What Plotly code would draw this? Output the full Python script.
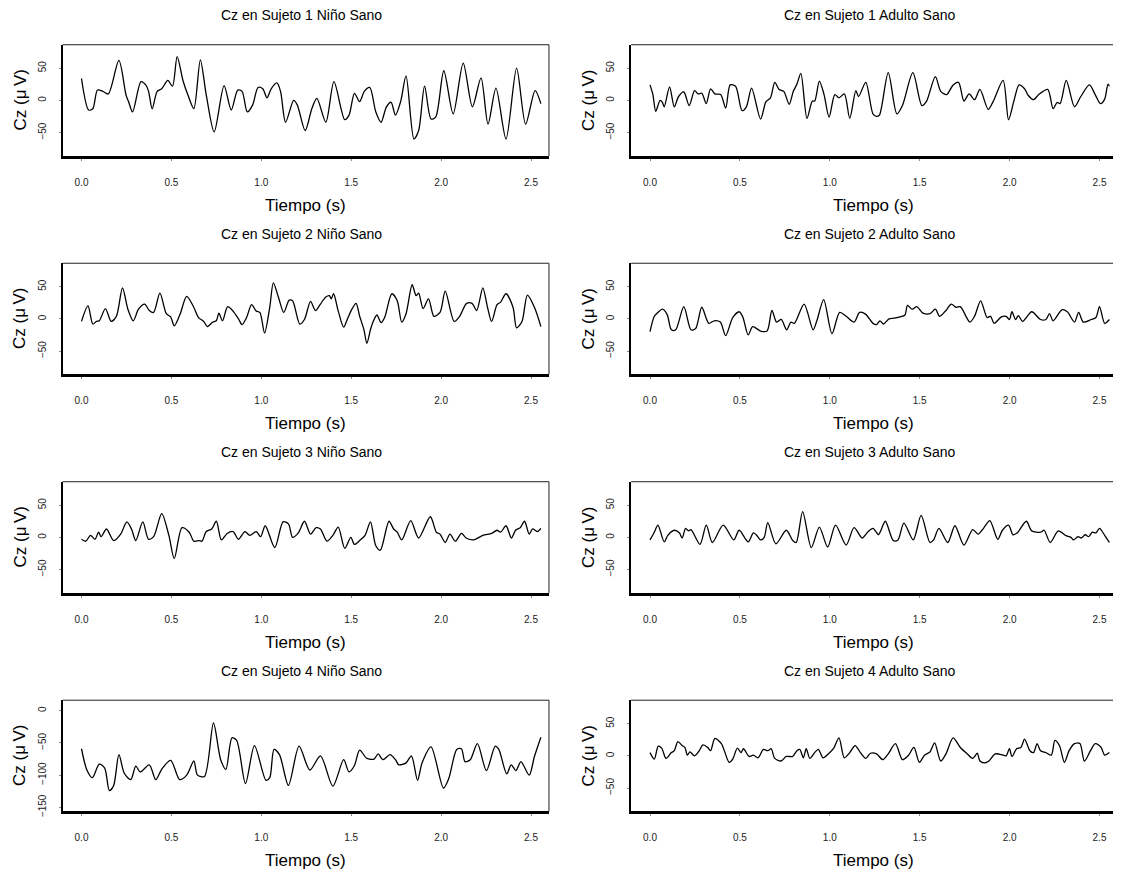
import plotly.graph_objects as go

# ---------------- data (time in s, Cz in microvolts) ----------------
nino1_t = [0.000,0.040,0.063,0.089,0.119,0.149,0.208,0.248,0.262,0.284,0.331,0.357,0.373,0.393,0.421,0.446,0.480,0.506,0.532,0.565,0.595,0.625,0.661,0.694,0.738,0.793,0.833,0.869,0.893,0.922,0.952,0.982,1.008,1.032,1.055,1.087,1.107,1.135,1.180,1.200,1.244,1.281,1.309,1.359,1.404,1.464,1.488,1.518,1.547,1.573,1.603,1.637,1.666,1.696,1.722,1.746,1.775,1.805,1.849,1.875,1.908,1.944,1.970,2.015,2.067,2.123,2.174,2.222,2.261,2.305,2.361,2.420,2.470,2.523,2.555]
nino1_v = [34,-15,-13,16,14,10,62,8,-2,-18,29,24,14,-13,14,18,31,22,68,30,6,-13,63,8,-49,23,-15,16,14,-18,-7,20,18,4,18,27,14,-34,0,-7,-47,-13,3,-34,29,-30,-23,11,-2,14,20,-18,-34,-10,-3,-23,-2,38,-60,-47,22,-29,-26,46,-21,58,-10,35,-37,19,-60,50,-37,15,-5]

adulto1_t = [0.000,0.016,0.032,0.056,0.069,0.079,0.109,0.135,0.159,0.188,0.218,0.248,0.268,0.288,0.313,0.337,0.361,0.393,0.421,0.446,0.476,0.512,0.536,0.565,0.615,0.645,0.670,0.694,0.718,0.744,0.774,0.797,0.817,0.839,0.873,0.903,0.916,0.942,0.968,0.996,1.028,1.051,1.081,1.111,1.145,1.160,1.200,1.240,1.260,1.276,1.325,1.373,1.404,1.462,1.512,1.537,1.587,1.617,1.650,1.686,1.716,1.746,1.775,1.805,1.835,1.881,1.908,1.964,1.994,2.023,2.053,2.083,2.103,2.133,2.162,2.212,2.242,2.265,2.281,2.315,2.361,2.396,2.444,2.476,2.505,2.529,2.547,2.555]
adulto1_v = [24,9,-17,0,-3,-10,21,-10,6,13,-8,15,10,11,-5,18,10,9,-12,24,22,-16,-10,19,-29,-2,4,28,17,14,-6,14,25,42,-28,-1,-1,30,9,-26,9,4,10,-28,15,6,28,-21,-25,-23,43,-21,-8,43,-8,-2,37,14,9,24,28,-1,10,1,17,-14,-2,31,-30,-2,24,18,8,1,9,17,-13,-3,-5,31,-10,6,24,9,-5,2,25,22]

nino2_t = [0.000,0.036,0.063,0.083,0.099,0.133,0.165,0.194,0.228,0.258,0.288,0.317,0.351,0.377,0.401,0.436,0.472,0.496,0.516,0.548,0.585,0.621,0.651,0.680,0.700,0.730,0.750,0.764,0.784,0.813,0.843,0.873,0.893,0.918,0.946,0.972,0.992,1.018,1.047,1.067,1.095,1.125,1.155,1.174,1.214,1.240,1.274,1.301,1.329,1.359,1.379,1.389,1.402,1.428,1.458,1.478,1.504,1.527,1.547,1.571,1.587,1.607,1.621,1.643,1.666,1.686,1.726,1.756,1.781,1.805,1.839,1.861,1.875,1.900,1.930,1.960,1.994,2.023,2.073,2.103,2.142,2.172,2.198,2.232,2.258,2.281,2.311,2.331,2.361,2.400,2.420,2.450,2.480,2.519,2.555]
nino2_v = [-4,20,-8,-4,-3,16,-4,4,48,15,-3,15,23,13,10,40,8,3,-11,7,35,20,2,-4,-12,-5,-3,9,-3,19,12,0,-9,2,22,12,10,-22,18,56,34,10,29,28,-8,-1,27,13,23,34,36,31,39,12,-13,-1,15,24,4,-17,-38,-17,-5,6,-6,2,39,28,-5,8,53,36,40,16,31,4,10,43,-4,4,24,24,13,48,18,-4,22,26,39,18,-14,-4,37,18,-12]

adulto2_t = [0.000,0.024,0.044,0.069,0.095,0.119,0.143,0.188,0.228,0.254,0.288,0.327,0.357,0.391,0.421,0.460,0.496,0.516,0.546,0.571,0.615,0.651,0.678,0.704,0.730,0.760,0.784,0.803,0.857,0.907,0.928,0.966,1.012,1.055,1.091,1.135,1.166,1.200,1.240,1.260,1.279,1.299,1.329,1.359,1.389,1.418,1.432,1.458,1.484,1.518,1.557,1.587,1.611,1.646,1.676,1.702,1.726,1.779,1.805,1.839,1.875,1.894,1.914,1.954,1.980,1.999,2.013,2.033,2.049,2.073,2.123,2.172,2.202,2.222,2.242,2.291,2.321,2.361,2.384,2.410,2.454,2.480,2.500,2.529,2.555]
adulto2_v = [-20,4,10,15,7,-17,-17,19,-17,-15,18,-7,-3,-5,-26,2,11,3,-25,-12,-19,-19,13,-5,-1,-17,-5,-7,23,-17,-3,30,-23,10,4,-5,10,7,-7,-9,-3,-8,0,1,3,6,21,15,19,9,8,15,4,13,23,18,19,-5,4,28,2,4,-7,3,4,-1,11,-1,5,-4,11,-1,-1,8,-3,14,11,-5,10,-5,-1,2,19,-7,-1]

nino3_t = [0.000,0.024,0.050,0.075,0.095,0.109,0.139,0.179,0.218,0.252,0.278,0.302,0.341,0.373,0.401,0.446,0.486,0.516,0.559,0.599,0.625,0.655,0.670,0.694,0.724,0.750,0.778,0.810,0.843,0.873,0.909,0.936,0.972,0.996,1.022,1.075,1.121,1.151,1.174,1.206,1.240,1.274,1.305,1.329,1.365,1.398,1.428,1.464,1.498,1.518,1.547,1.577,1.607,1.637,1.662,1.710,1.736,1.756,1.781,1.831,1.875,1.940,1.974,1.994,2.023,2.049,2.079,2.113,2.139,2.182,2.232,2.281,2.311,2.331,2.361,2.391,2.414,2.440,2.464,2.490,2.509,2.535,2.555]
nino3_v = [-3,-6,3,-3,8,1,13,-5,5,24,13,-5,24,-3,1,37,3,-33,15,8,-6,-5,-6,9,13,25,-4,6,9,-3,9,3,9,1,18,-16,24,21,0,7,25,5,15,13,-6,3,16,-17,0,-11,-5,3,24,-13,-20,25,13,8,-4,26,-1,32,8,5,-8,5,-6,6,-1,-4,3,6,11,8,18,-1,11,15,25,5,13,9,14]

adulto3_t = [0.000,0.024,0.044,0.079,0.099,0.135,0.163,0.179,0.198,0.214,0.228,0.278,0.313,0.347,0.407,0.466,0.496,0.546,0.575,0.591,0.615,0.635,0.655,0.700,0.758,0.794,0.813,0.849,0.897,0.942,0.988,1.032,1.091,1.135,1.180,1.210,1.240,1.270,1.280,1.309,1.353,1.379,1.412,1.464,1.508,1.557,1.577,1.607,1.656,1.696,1.746,1.795,1.825,1.855,1.890,1.934,1.960,1.994,2.019,2.043,2.093,2.123,2.172,2.192,2.226,2.271,2.311,2.341,2.356,2.380,2.400,2.420,2.440,2.460,2.480,2.500,2.529,2.555]
adulto3_v = [-4,8,19,-7,3,11,7,-1,14,10,12,-11,19,-8,19,-4,11,-7,7,4,-4,0,23,-10,11,-5,-8,40,-16,16,-15,19,-12,15,-1,8,14,4,8,25,-5,-4,22,-4,34,-8,-4,14,-8,18,-12,12,5,14,26,-3,11,19,4,7,25,10,8,11,-8,10,3,0,-4,1,-1,4,1,8,7,14,3,-8]

nino4_t = [0.000,0.030,0.060,0.099,0.129,0.155,0.179,0.208,0.238,0.274,0.302,0.327,0.377,0.413,0.446,0.496,0.546,0.585,0.625,0.645,0.684,0.734,0.774,0.803,0.837,0.863,0.912,0.962,1.026,1.047,1.071,1.101,1.151,1.210,1.270,1.329,1.398,1.458,1.488,1.518,1.547,1.587,1.627,1.650,1.676,1.716,1.746,1.765,1.805,1.835,1.869,1.894,1.944,2.013,2.043,2.087,2.113,2.133,2.162,2.202,2.252,2.301,2.321,2.365,2.390,2.416,2.444,2.490,2.519,2.555]
nino4_v = [-59,-92,-104,-83,-89,-124,-116,-68,-97,-107,-86,-95,-84,-107,-91,-77,-107,-100,-78,-100,-102,-19,-76,-91,-42,-46,-113,-54,-108,-104,-60,-68,-116,-55,-92,-70,-117,-76,-95,-85,-61,-74,-75,-67,-76,-68,-76,-84,-81,-70,-108,-81,-56,-120,-105,-60,-59,-79,-76,-51,-93,-55,-60,-98,-84,-93,-79,-100,-71,-41]

adulto4_t = [0.000,0.024,0.046,0.065,0.089,0.119,0.135,0.155,0.179,0.194,0.208,0.222,0.248,0.274,0.294,0.321,0.337,0.361,0.397,0.417,0.440,0.460,0.486,0.506,0.520,0.551,0.575,0.601,0.631,0.655,0.674,0.694,0.730,0.758,0.793,0.817,0.833,0.853,0.869,0.889,0.916,0.936,0.962,0.992,1.022,1.051,1.081,1.111,1.141,1.170,1.200,1.226,1.260,1.295,1.325,1.365,1.404,1.438,1.468,1.498,1.527,1.557,1.583,1.617,1.646,1.686,1.726,1.765,1.795,1.820,1.835,1.861,1.885,1.920,1.954,1.980,1.999,2.013,2.039,2.063,2.083,2.113,2.133,2.153,2.172,2.202,2.232,2.252,2.277,2.305,2.331,2.361,2.391,2.416,2.450,2.476,2.509,2.529,2.555]
adulto4_v = [5,-5,15,12,-4,5,8,22,16,13,1,6,0,8,17,13,8,27,19,5,-10,-5,12,5,11,-1,1,-3,10,8,11,-4,-8,-1,-1,8,10,-3,11,-4,5,10,-3,3,12,28,-3,5,16,5,-4,4,3,-6,3,19,-6,1,13,-10,1,6,20,-8,3,28,13,3,-4,4,-8,-11,-8,3,2,0,11,-1,11,13,26,8,5,19,8,5,1,24,16,-10,8,19,19,-8,8,19,13,1,5]

titles = ["Cz en Sujeto 1 Niño Sano", "Cz en Sujeto 1 Adulto Sano",
          "Cz en Sujeto 2 Niño Sano", "Cz en Sujeto 2 Adulto Sano",
          "Cz en Sujeto 3 Niño Sano", "Cz en Sujeto 3 Adulto Sano",
          "Cz en Sujeto 4 Niño Sano", "Cz en Sujeto 4 Adulto Sano"]
series = [(nino1_t, nino1_v), (adulto1_t, adulto1_v),
          (nino2_t, nino2_v), (adulto2_t, adulto2_v),
          (nino3_t, nino3_v), (adulto3_t, adulto3_v),
          (nino4_t, nino4_v), (adulto4_t, adulto4_v)]
x_ticks = [0.0, 0.5, 1.0, 1.5, 2.0, 2.5]
x_ticklabels = ["0.0", "0.5", "1.0", "1.5", "2.0", "2.5"]
y_ticks_std = [-50, 0, 50]
y_ticks_n4 = [-150, -100, -50, 0]
x_label = "Tiempo (s)"
y_label = "Cz (μ\u2009V)"

# ---------------- layout geometry (pixels) ----------------
W, H = 1121, 874
FONT = "Liberation Sans, Arial, Helvetica, sans-serif"
PPS = 179.8                      # pixels per second on the time axes
zero_px = [73.5, 642.0]          # pixel position of t = 0 in each column
t_min = -0.105
t_max_left = 2.60
row_top0, row_step, box_h = 37, 220, 112

def px(x):
    return x / W

def py(y):
    return 1 - y / H

fig = go.Figure()
annotations = []
shapes = []

for i, ((t, v), title) in enumerate(zip(series, titles)):
    r, c = divmod(i, 2)
    n = i + 1
    xa = "xaxis" if n == 1 else f"xaxis{n}"
    ya = "yaxis" if n == 1 else f"yaxis{n}"
    xr = "x" if n == 1 else f"x{n}"
    yr = "y" if n == 1 else f"y{n}"
    top = row_top0 + row_step * r
    bot = top + box_h
    z = zero_px[c]
    x0 = z + t_min * PPS
    if c == 0:
        x1 = z + t_max_left * PPS
        t_max = t_max_left
    else:
        x1 = W
        t_max = (W - z) / PPS

    fig.add_trace(go.Scatter(x=t, y=v, mode="lines", xaxis=xr, yaxis=yr,
                             line=dict(color="black", width=1.3, shape="spline", smoothing=0.8),
                             showlegend=False, hoverinfo="skip"))

    if i == 6:
        yrange = [-156.4, 16.4]
        yt = y_ticks_n4
    else:
        yrange = [-86.4, 86.4]
        yt = y_ticks_std

    fig.layout[xa] = dict(domain=[px(x0), px(x1)], range=[t_min, t_max],
                          anchor=yr, tickvals=x_ticks, ticktext=x_ticklabels,
                          showline=True, linecolor="black", linewidth=2.5,
                          ticks="outside", ticklen=2, tickwidth=1, tickcolor="#888",
                          ticklabelstandoff=13,
                          showgrid=False, zeroline=False,
                          tickfont=dict(family=FONT, size=10, color="#222"))
    fig.layout[ya] = dict(domain=[py(bot), py(top)], range=yrange, anchor=xr,
                          tickvals=yt, tickangle=-90,
                          showline=True, linecolor="black", linewidth=2,
                          ticks="outside", ticklen=2, tickwidth=1, tickcolor="#888",
                          ticklabelstandoff=9,
                          showgrid=False, zeroline=False,
                          tickfont=dict(family=FONT, size=10, color="#222"))

    # thin top (and right, when visible) border of the box
    shapes.append(dict(type="line", xref=f"{xr} domain", yref=f"{yr} domain",
                       x0=0, x1=1, y0=1, y1=1, line=dict(color="#222", width=1)))
    if c == 0:
        shapes.append(dict(type="line", xref=f"{xr} domain", yref=f"{yr} domain",
                           x0=1, x1=1, y0=0, y1=1, line=dict(color="#222", width=1)))

    annotations.append(dict(text=title, x=px(z + 1.222 * PPS), y=py(top - 29.5), xref="paper", yref="paper",
                            showarrow=False, xanchor="center", yanchor="middle",
                            font=dict(family=FONT, size=14, color="black")))
    annotations.append(dict(text=x_label, x=px(z + 1.245 * PPS), y=py(bot + 49.5), xref="paper", yref="paper",
                            showarrow=False, xanchor="center", yanchor="middle",
                            font=dict(family=FONT, size=17, color="black")))
    annotations.append(dict(text=y_label, x=px(x0 - 42.5), y=py((top + bot) / 2), xref="paper", yref="paper",
                            showarrow=False, xanchor="center", yanchor="middle", textangle=-90,
                            font=dict(family=FONT, size=17, color="black")))

fig.update_layout(width=W, height=H, margin=dict(l=0, r=0, t=0, b=0),
                  paper_bgcolor="white", plot_bgcolor="white",
                  annotations=annotations, shapes=shapes, showlegend=False)

fig.write_html("out.html")
